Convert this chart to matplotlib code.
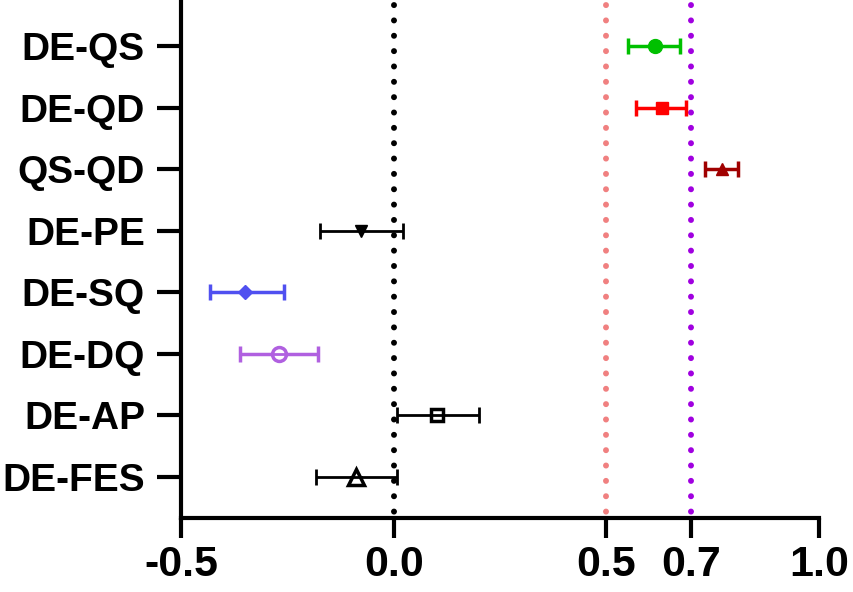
import matplotlib
matplotlib.use("Agg")
import matplotlib.pyplot as plt

# Data (top to bottom)
labels = ['DE-QS', 'DE-QD', 'QS-QD', 'DE-PE', 'DE-SQ', 'DE-DQ', 'DE-AP', 'DE-FES']
estimate = [0.614, 0.631, 0.772, -0.077, -0.350, -0.269, 0.102, -0.089]
lower = [0.551, 0.570, 0.732, -0.173, -0.432, -0.361, 0.008, -0.182]
upper = [0.674, 0.687, 0.810, 0.022, -0.258, -0.178, 0.200, 0.008]
colors = ['#00c000', '#ff0000', '#a00000', '#000000', '#5050f0', '#b060e0', '#000000', '#000000']
markers = ['o', 's', '^', 'v', 'D', 'o', 's', '^']
filled = [True, True, True, True, True, False, False, False]
msizes = [10, 9, 9, 9, 7, 10, 9, 11]

ref_lines = [0.0, 0.5, 0.7]
ref_colors = ['#000000', '#f08080', '#a000e0']
xticks = [-0.5, 0.0, 0.5, 0.7, 1.0]
xticklabels = ['-0.5', '0.0', '0.5', '0.7', '1.0']

plt.rcParams['font.family'] = ['Liberation Sans', 'DejaVu Sans']
plt.rcParams['font.weight'] = 'bold'

fig = plt.figure(figsize=(8.54, 5.92), dpi=100)
ax = fig.add_axes([0.212, 0.125, 0.747, 0.875])

# dotted reference lines
for xv, c in zip(ref_lines, ref_colors):
    ax.axvline(xv, color=c, linestyle=(1.5, (0.01, 2.56)), linewidth=4.3,
               dash_capstyle='round', zorder=1)

n = len(labels)
for i in range(n):
    y = n - i
    err = [[estimate[i] - lower[i]], [upper[i] - estimate[i]]]
    lw = 2.5 if colors[i] != '#000000' else 2.0
    ax.errorbar(estimate[i], y, xerr=err, fmt='none', ecolor=colors[i],
                elinewidth=lw, capsize=6, capthick=lw, zorder=3)
    face = colors[i] if filled[i] else 'white'
    ax.plot(estimate[i], y, marker=markers[i], markersize=msizes[i],
            markerfacecolor=face, markeredgecolor=colors[i],
            markeredgewidth=2.5 if not filled[i] else 1, linestyle='none', zorder=4)
    if not filled[i]:
        ax.plot([estimate[i] - 0.012, estimate[i] + 0.012], [y, y],
                color=colors[i], linewidth=2.0, zorder=5)

ax.set_xlim(-0.5, 1.0)
ax.set_ylim(0.333, 8.75)
ax.set_xticks(xticks)
ax.set_xticklabels(xticklabels)
ax.set_yticks(range(n, 0, -1))
ax.set_yticklabels(labels)

for side in ['top', 'right']:
    ax.spines[side].set_visible(False)
for side in ['left', 'bottom']:
    ax.spines[side].set_linewidth(3)
ax.tick_params(axis='x', width=3, length=14.5, labelsize=31, pad=5)
ax.tick_params(axis='y', width=3, length=17, labelsize=28, pad=9)
for t in ax.get_xticklabels() + ax.get_yticklabels():
    t.set_fontweight('bold')

fig.savefig('out.png', dpi=100)
